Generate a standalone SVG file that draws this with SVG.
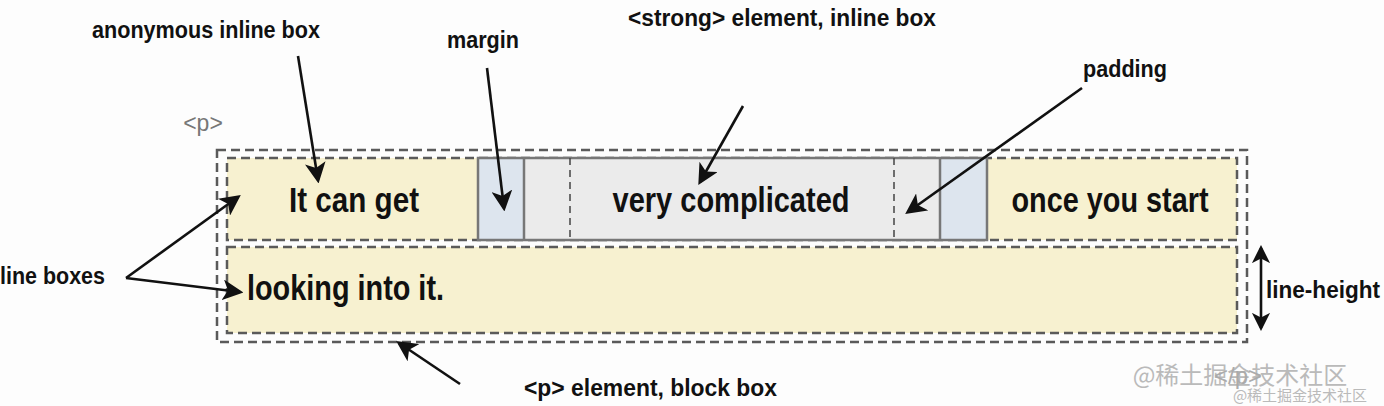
<svg xmlns="http://www.w3.org/2000/svg" width="1384" height="406" viewBox="0 0 1384 406">
<style>
.dash{fill:none;stroke:#5a5a5a;stroke-width:2.5;stroke-dasharray:9,5}
.lb{fill:#f7f1d0}
.main{font-family:"Liberation Sans",Arial,sans-serif;font-size:35px;font-weight:bold;fill:#111}
.lab{font-family:"Liberation Sans",Arial,sans-serif;font-size:23px;font-weight:bold;fill:#111}
.arr{stroke:#111;stroke-width:2.6;fill:none;marker-end:url(#ah)}
</style>
<defs>
<marker id="ah" viewBox="0 0 12 12" refX="10" refY="6" markerWidth="8" markerHeight="8" orient="auto" markerUnits="strokeWidth">
<path d="M0,0 L12,6 L0,12 L3,6 z" fill="#111"/>
</marker>
<marker id="ahs" viewBox="0 0 12 12" refX="10" refY="6" markerWidth="7" markerHeight="7" orient="auto-start-reverse" markerUnits="strokeWidth">
<path d="M0,0 L12,6 L0,12 L3,6 z" fill="#111"/>
</marker>
</defs>
<rect width="1384" height="406" fill="#fdfdfd"/>
<g id="block-box">
<rect x="217" y="150" width="1030" height="192" class="dash"/>
<text x="203" y="131" text-anchor="middle" font-family="Liberation Sans,Arial,sans-serif" font-size="23" fill="#777">&lt;p&gt;</text>
</g>
<g id="line-box-1">
<rect x="227" y="158" width="1010" height="82" class="lb"/>
<rect x="227" y="158" width="1010" height="82" class="dash"/>
<text x="354" y="212" text-anchor="middle" class="main" textLength="130" lengthAdjust="spacingAndGlyphs">It can get</text>
<text x="1110" y="212" text-anchor="middle" class="main" textLength="197" lengthAdjust="spacingAndGlyphs">once you start</text>
</g>
<g id="line-box-2">
<rect x="227" y="247" width="1010" height="86" class="lb"/>
<rect x="227" y="247" width="1010" height="86" class="dash"/>
<text x="247" y="300" class="main" textLength="197" lengthAdjust="spacingAndGlyphs">looking into it.</text>
</g>
<g id="strong-box">
<rect x="478" y="158" width="509" height="82" fill="#ebebeb"/>
<rect x="478" y="158" width="46" height="82" fill="#dde5ee"/>
<rect x="940" y="158" width="47" height="82" fill="#dde5ee"/>
<rect x="478" y="158" width="509" height="82" fill="none" stroke="#777" stroke-width="2.5"/>
<line x1="524" y1="158" x2="524" y2="240" stroke="#777" stroke-width="2.5"/>
<line x1="940" y1="158" x2="940" y2="240" stroke="#777" stroke-width="2.5"/>
<line x1="570" y1="158" x2="570" y2="240" stroke="#444" stroke-width="1.5" stroke-dasharray="7,5"/>
<line x1="894" y1="158" x2="894" y2="240" stroke="#444" stroke-width="1.5" stroke-dasharray="7,5"/>
<text x="731" y="212" text-anchor="middle" class="main" textLength="237" lengthAdjust="spacingAndGlyphs">very complicated</text>
</g>
<g id="labels">
<text x="206" y="38" text-anchor="middle" class="lab" textLength="228" lengthAdjust="spacingAndGlyphs">anonymous inline box</text>
<text x="483" y="48" text-anchor="middle" class="lab" textLength="72" lengthAdjust="spacingAndGlyphs">margin</text>
<text x="782" y="26" text-anchor="middle" class="lab" textLength="308" lengthAdjust="spacingAndGlyphs">&lt;strong&gt; element, inline box</text>
<text x="1125" y="77" text-anchor="middle" class="lab" textLength="84" lengthAdjust="spacingAndGlyphs">padding</text>
<text x="0" y="284" class="lab" textLength="105" lengthAdjust="spacingAndGlyphs">line boxes</text>
<text x="1266" y="298" class="lab" textLength="114" lengthAdjust="spacingAndGlyphs">line-height</text>
<text x="524" y="396" class="lab" textLength="253" lengthAdjust="spacingAndGlyphs">&lt;p&gt; element, block box</text>
<text x="1238" y="384" text-anchor="middle" font-family="Liberation Sans,Arial,sans-serif" font-size="24" fill="#999" opacity="0.8">&lt;/p&gt;</text>
<text x="1240" y="384" text-anchor="middle" font-family="'Noto Sans CJK SC',sans-serif" font-size="24" fill="#aaa" opacity="0.8">@稀土掘金技术社区</text>
<text x="1300" y="401" text-anchor="middle" font-family="'Noto Sans CJK SC',sans-serif" font-size="15" fill="#aaa" opacity="0.8">@稀土掘金技术社区</text>
</g>
<g id="connectors">
<line x1="298" y1="56" x2="318" y2="180" class="arr"/>
<line x1="487" y1="68" x2="504" y2="208" class="arr"/>
<line x1="743" y1="106" x2="700" y2="182" class="arr"/>
<line x1="1082" y1="88" x2="908" y2="212" class="arr"/>
<line x1="126" y1="278" x2="238" y2="197" class="arr"/>
<line x1="126" y1="278" x2="240" y2="292" class="arr"/>
<line x1="460" y1="384" x2="399" y2="343" class="arr"/>
<line x1="1261" y1="248" x2="1261" y2="328" stroke="#111" stroke-width="2.6" marker-start="url(#ahs)" marker-end="url(#ahs)"/>
</g>
</svg>
